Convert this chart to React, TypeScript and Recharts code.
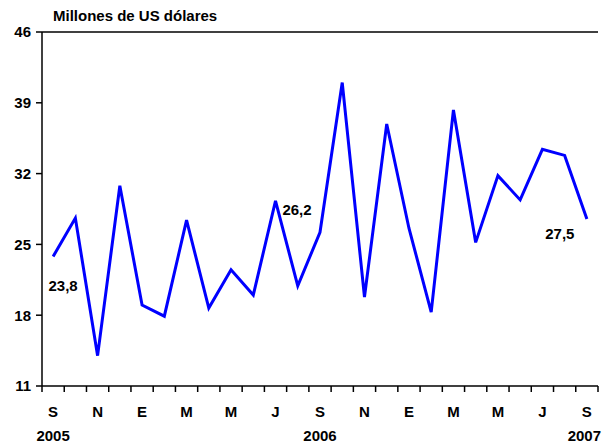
import { LineChart, Line, XAxis, YAxis, ReferenceLine, LabelList } from 'recharts'

const months = ['S', 'O', 'N', 'D', 'E', 'F', 'M', 'A', 'M', 'J', 'J', 'A', 'S', 'O', 'N', 'D', 'E', 'F', 'M', 'A', 'M', 'J', 'J', 'A', 'S']
const years = ['2005', '', '', '', '', '', '', '', '', '', '', '', '2006', '', '', '', '', '', '', '', '', '', '', '', '2007']
const values = [23.8, 27.6, 14.0, 30.8, 19.0, 17.9, 27.4, 18.7, 22.5, 20.0, 29.3, 20.9, 26.2, 41.0, 19.8, 36.9, 26.6, 18.3, 38.3, 25.2, 31.8, 29.4, 34.4, 33.8, 27.5]
const yTicks = [11, 18, 25, 32, 39, 46]
// which points carry a value label
const labelled = [0, 12, 24]

const data = months.map((m, i) => ({ i, month: m, year: years[i], value: values[i] }))

const FONT = 'Liberation Sans, Arial, sans-serif'
const W = 604
const H = 444
const LEFT = 42
const RIGHT = 6
const band = (W - LEFT - RIGHT) / data.length

function MonthTick(props: any) {
  const { x, y, index } = props
  const d = data[index]
  const last = index === data.length - 1
  return (
    <g>
      <line x1={x - band / 2} x2={x - band / 2} y1={y - 8} y2={y - 2} stroke="#000" strokeWidth={1.5} />
      {last && <line x1={x + band / 2} x2={x + band / 2} y1={y - 8} y2={y - 2} stroke="#000" strokeWidth={1.5} />}
      {index % 2 === 0 && (
        <text x={x} y={y + 23} textAnchor="middle" fontFamily={FONT} fontWeight="bold" fontSize={15} fill="#000">
          {d.month}
        </text>
      )}
      {d.year && (
        <text x={last ? x + band / 2 + 3 : x} y={y + 47} textAnchor={last ? 'end' : 'middle'} fontFamily={FONT} fontWeight="bold" fontSize={15} fill="#000">
          {d.year}
        </text>
      )}
    </g>
  )
}

// offsets of the value labels from their points
const labelOffsets: Record<number, [number, number]> = {
  0: [10, 34],
  12: [-23, -17],
  24: [-27, 20],
}

function ValueLabel(props: any) {
  const { x, y, index, value } = props
  if (!labelled.includes(index)) return null
  const [dx, dy] = labelOffsets[index]
  return (
    <text x={x + dx} y={y + dy} textAnchor="middle" fontFamily={FONT} fontWeight="bold" fontSize={15} fill="#000">
      {String(value).replace('.', ',')}
    </text>
  )
}

export default function App() {
  return (
    <div style={{ position: 'absolute', left: 0, top: 0, width: W, height: H, background: '#fff' }}>
      <LineChart width={W} height={H} data={data} margin={{ top: 32, right: RIGHT, left: 0, bottom: 0 }}>
        <XAxis
          dataKey="i"
          interval={0}
          padding={{ left: band / 2, right: band / 2 }}
          tickLine={false}
          axisLine={{ stroke: '#000', strokeWidth: 1.5 }}
          tick={<MonthTick />}
          height={58}
        />
        <YAxis
          domain={[11, 46]}
          ticks={yTicks}
          interval={0}
          width={LEFT}
          tickSize={6}
          tickMargin={5}
          axisLine={{ stroke: '#000', strokeWidth: 1.5 }}
          tickLine={{ stroke: '#000', strokeWidth: 1.5 }}
          tick={{ fontFamily: FONT, fontWeight: 'bold', fontSize: 15, fill: '#000' }}
        />
        <YAxis yAxisId="r" orientation="right" width={0} tick={false} axisLine={{ stroke: '#555', strokeWidth: 1.5 }} />
        <ReferenceLine y={46} stroke="#000" strokeWidth={1.5} />
        <Line type="linear" dataKey="value" stroke="#0000FF" strokeWidth={3} dot={false} isAnimationActive={false}>
          <LabelList dataKey="value" content={<ValueLabel />} />
        </Line>
      </LineChart>
      <div
        style={{
          position: 'absolute',
          left: 53,
          top: 7,
          fontFamily: FONT,
          fontWeight: 'bold',
          fontSize: 15,
          color: '#000',
          whiteSpace: 'nowrap',
        }}
      >
        Millones de US dólares
      </div>
    </div>
  )
}
